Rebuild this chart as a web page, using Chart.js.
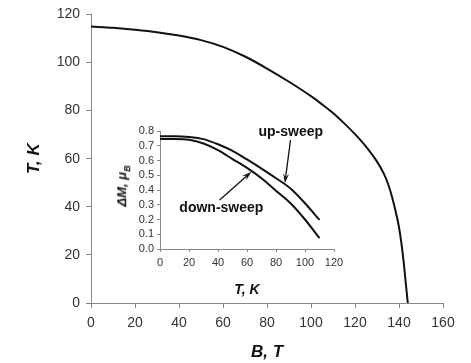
<!DOCTYPE html>
<html>
<head>
<meta charset="utf-8">
<script src="https://cdn.jsdelivr.net/npm/chart.js@4"></script>
<style>
  html, body { margin: 0; padding: 0; background: #fff; }
  #wrap { position: relative; width: 471px; height: 363px; }
  #main { position: absolute; left: 0; top: 0; }
  #inset { position: absolute; left: 100px; top: 110px; }
  #insetY {
    position: absolute; left: 123px; top: 186px;
    transform: translate(-50%, -50%) rotate(-90deg);
    font: italic bold 13px "Liberation Sans", Arial, sans-serif;
    color: #111; white-space: nowrap;
  }
  #insetY sub { font-size: 9px; }
</style>
</head>
<body>
<div id="wrap">
  <canvas id="main" width="471" height="363"></canvas>
  <canvas id="inset" width="250" height="200"></canvas>
  <div id="insetY">ΔM, μ<sub>B</sub></div>
</div>
<script>
'use strict';

// ── Data ──────────────────────────────────────────────────────
const mainB = [0, 10, 20, 30, 40, 50, 60, 70, 80, 90, 100, 105, 110, 115, 120, 125, 130, 133, 135, 137, 139, 140, 141, 142, 143, 144];
const mainT = [115, 114.4, 113.6, 112.6, 111.2, 109.3, 106.5, 102.5, 97.5, 92, 86, 82.6, 79, 74.8, 70.2, 65, 58.8, 54, 49.6, 43.6, 36, 31.5, 25.5, 18, 9, 0];

const insetT    = [0, 10, 20, 30, 40, 50, 60, 70, 80, 90, 100, 110];
const upSweep   = [0.765, 0.765, 0.76, 0.745, 0.71, 0.665, 0.607, 0.545, 0.48, 0.41, 0.31, 0.197];
const downSweep = [0.745, 0.745, 0.74, 0.715, 0.67, 0.61, 0.55, 0.48, 0.395, 0.31, 0.2, 0.073];

// labels + arrows in inset data units
const notes = [
    { text: 'up-sweep',   at: [90.2, 0.795], from: [90, 0.739], to: [86.1, 0.445] },
    { text: 'down-sweep', at: [42.3, 0.275], from: [41.1, 0.332], to: [63.1, 0.524] }
];

const FONT = '"Liberation Sans", Arial, sans-serif';
Chart.defaults.font.family = FONT;
Chart.defaults.color = '#333';

const pts = (xs, ys) => xs.map((x, i) => ({ x, y: ys[i] }));

function axis(min, max, step, size, tl, pad, fit) {
    return {
        type: 'linear', min, max,
        ticks: { stepSize: step, autoSkip: false, padding: pad, font: { size }, color: '#333' },
        grid: { drawOnChartArea: false, drawTicks: true, tickLength: tl, color: '#888' },
        border: { display: true, color: '#888', width: 1 },
        afterFit: fit
    };
}

// ── Main chart ────────────────────────────────────────────────
const mx = axis(0, 160, 20, 14, 5, 7, s => { s.height = 60; });
mx.title = { display: true, text: 'B, T', color: '#111', padding: { top: 0, bottom: 0 },
             font: { size: 17, weight: 'bold', style: 'italic' } };
const my = axis(0, 120, 20, 14, 5, 6, s => { s.width = 91; });
my.title = { display: true, text: 'T, K', color: '#111', padding: { top: 24, bottom: 0 },
             font: { size: 17, weight: 'bold', style: 'italic' } };

new Chart(document.getElementById('main').getContext('2d'), {
    type: 'scatter',
    data: { datasets: [{ data: pts(mainB, mainT), showLine: true, borderColor: '#111', borderWidth: 2,
                         pointRadius: 0, cubicInterpolationMode: 'monotone' }] },
    options: {
        responsive: false, animation: false,
        layout: { padding: { top: 13, right: 28, left: 0, bottom: 0 } },
        scales: { x: mx, y: my },
        plugins: { legend: { display: false }, tooltip: { enabled: false } }
    }
});

// ── Inset chart ───────────────────────────────────────────────
const notesPlugin = {
    id: 'notes',
    afterDatasetsDraw(chart) {
        const { ctx, scales: { x, y } } = chart;
        ctx.save();
        notes.forEach(n => {
            const x0 = x.getPixelForValue(n.from[0]), y0 = y.getPixelForValue(n.from[1]);
            const x1 = x.getPixelForValue(n.to[0]),   y1 = y.getPixelForValue(n.to[1]);
            const a = Math.atan2(y1 - y0, x1 - x0);
            const hl = 10, hw = 3;
            ctx.strokeStyle = '#111'; ctx.fillStyle = '#111'; ctx.lineWidth = 1.3;
            ctx.beginPath(); ctx.moveTo(x0, y0);
            ctx.lineTo(x1 - Math.cos(a) * hl * 0.6, y1 - Math.sin(a) * hl * 0.6); ctx.stroke();
            ctx.beginPath();
            ctx.moveTo(x1, y1);
            ctx.lineTo(x1 - Math.cos(a) * hl - Math.sin(a) * hw, y1 - Math.sin(a) * hl + Math.cos(a) * hw);
            ctx.lineTo(x1 - Math.cos(a) * hl * 0.6, y1 - Math.sin(a) * hl * 0.6);
            ctx.lineTo(x1 - Math.cos(a) * hl + Math.sin(a) * hw, y1 - Math.sin(a) * hl - Math.cos(a) * hw);
            ctx.closePath(); ctx.fill();

            ctx.font = 'bold 14px ' + FONT;
            ctx.textAlign = 'center'; ctx.textBaseline = 'middle';
            ctx.fillText(n.text, x.getPixelForValue(n.at[0]), y.getPixelForValue(n.at[1]));
        });
        ctx.restore();
    }
};

const ix = axis(0, 120, 20, 11, 3, 4, s => { s.height = 61; });
ix.title = { display: true, text: 'T, K', color: '#111', padding: { top: 0, bottom: 11 },
             font: { size: 14, weight: 'bold', style: 'italic' } };
const iy = axis(0, 0.8, 0.1, 11, 3, 3, s => { s.width = 60; });
iy.ticks.callback = v => v.toFixed(1);

new Chart(document.getElementById('inset').getContext('2d'), {
    type: 'scatter',
    data: { datasets: [
        { data: pts(insetT, upSweep),   showLine: true, borderColor: '#111', borderWidth: 2, pointRadius: 0, cubicInterpolationMode: 'monotone' },
        { data: pts(insetT, downSweep), showLine: true, borderColor: '#111', borderWidth: 2, pointRadius: 0, cubicInterpolationMode: 'monotone' }
    ] },
    options: {
        responsive: false, animation: false,
        layout: { padding: { top: 21, right: 16, left: 0, bottom: 0 } },
        scales: { x: ix, y: iy },
        plugins: { legend: { display: false }, tooltip: { enabled: false } }
    },
    plugins: [notesPlugin]
});
</script>
</body>
</html>
